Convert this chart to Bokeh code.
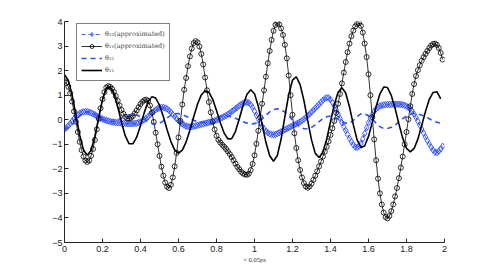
import numpy as np
from bokeh.plotting import figure
from bokeh.models import (Range1d, FixedTicker, CustomJSTickFormatter, Legend,
                          LegendItem)
from bokeh.embed import file_html
from bokeh.resources import INLINE

# ---------------- data ----------------
# sample grid of the approximated series (markers), 0.00 .. 1.99
t_approx = np.round(np.arange(200) * 0.01, 2)
# sample grid of the reference series (lines), 0.00 .. 1.98
t_exact = np.round(np.arange(100) * 0.02, 2)

theta12_approx = [
    -0.38, -0.33, -0.25, -0.16, -0.06, 0.04, 0.13, 0.20, 0.26, 0.30,
    0.32, 0.33, 0.33, 0.31, 0.28, 0.24, 0.20, 0.15, 0.11, 0.07,
    0.03, 0.00, -0.03, -0.05, -0.07, -0.09, -0.10, -0.11, -0.12, -0.13,
    -0.14, -0.15, -0.15, -0.16, -0.16, -0.16, -0.16, -0.15, -0.14, -0.12,
    -0.09, -0.05, 0.00, 0.06, 0.13, 0.20, 0.27, 0.34, 0.40, 0.45,
    0.48, 0.50, 0.50, 0.48, 0.44, 0.38, 0.31, 0.22, 0.13, 0.04,
    -0.04, -0.11, -0.17, -0.22, -0.26, -0.28, -0.29, -0.28, -0.27, -0.25,
    -0.23, -0.21, -0.19, -0.17, -0.15, -0.13, -0.11, -0.09, -0.07, -0.04,
    -0.01, 0.02, 0.05, 0.09, 0.13, 0.17, 0.22, 0.27, 0.33, 0.39,
    0.45, 0.51, 0.57, 0.62, 0.67, 0.70, 0.71, 0.69, 0.62, 0.50,
    0.35, 0.18, 0.02, -0.13, -0.26, -0.37, -0.46, -0.53, -0.58, -0.60,
    -0.61, -0.60, -0.57, -0.53, -0.49, -0.45, -0.41, -0.37, -0.33, -0.29,
    -0.25, -0.21, -0.17, -0.13, -0.09, -0.04, 0.02, 0.09, 0.16, 0.23,
    0.31, 0.39, 0.47, 0.55, 0.63, 0.71, 0.79, 0.86, 0.90, 0.89,
    0.82, 0.70, 0.55, 0.40, 0.23, 0.05, -0.12, -0.28, -0.44, -0.60,
    -0.76, -0.90, -1.02, -1.11, -1.13, -1.08, -0.96, -0.78, -0.56, -0.33,
    -0.12, 0.06, 0.21, 0.34, 0.44, 0.51, 0.56, 0.58, 0.60, 0.61,
    0.62, 0.62, 0.62, 0.63, 0.63, 0.63, 0.63, 0.62, 0.61, 0.59,
    0.55, 0.50, 0.44, 0.35, 0.23, 0.09, -0.06, -0.22, -0.38, -0.54,
    -0.70, -0.85, -0.99, -1.12, -1.24, -1.32, -1.34, -1.28, -1.19, -1.08,
]

theta11_approx = [
    1.56, 1.50, 1.34, 1.08, 0.74, 0.34, -0.08, -0.50, -0.90, -1.24,
    -1.50, -1.66, -1.72, -1.66, -1.47, -1.19, -0.82, -0.39, 0.04, 0.47,
    0.84, 1.12, 1.31, 1.37, 1.34, 1.26, 1.13, 0.96, 0.77, 0.58,
    0.40, 0.24, 0.12, 0.05, 0.05, 0.08, 0.15, 0.26, 0.38, 0.51,
    0.64, 0.73, 0.80, 0.82, 0.76, 0.58, 0.29, -0.09, -0.53, -1.00,
    -1.47, -1.91, -2.28, -2.56, -2.73, -2.78, -2.65, -2.35, -1.90, -1.35,
    -0.72, -0.05, 0.62, 1.22, 1.70, 2.18, 2.58, 2.90, 3.12, 3.20,
    3.15, 2.98, 2.68, 2.25, 1.72, 1.20, 0.72, 0.30, -0.08, -0.40,
    -0.65, -0.82, -0.93, -1.02, -1.10, -1.19, -1.29, -1.40, -1.52, -1.65,
    -1.79, -1.92, -2.02, -2.12, -2.19, -2.23, -2.24, -2.20, -2.05, -1.80,
    -1.45, -0.98, -0.45, 0.10, 0.65, 1.20, 1.75, 2.30, 2.80, 3.25,
    3.62, 3.86, 3.94, 3.88, 3.72, 3.45, 3.05, 2.50, 1.80, 1.00,
    0.20, -0.55, -1.15, -1.65, -2.05, -2.35, -2.58, -2.72, -2.77, -2.72,
    -2.60, -2.45, -2.28, -2.10, -1.90, -1.70, -1.50, -1.30, -1.10, -0.88,
    -0.62, -0.35, -0.05, 0.28, 0.65, 1.05, 1.48, 1.92, 2.35, 2.75,
    3.10, 3.40, 3.63, 3.80, 3.90, 3.93, 3.82, 3.55, 3.10, 2.55,
    1.85, 1.00, 0.10, -0.80, -1.65, -2.40, -3.00, -3.45, -3.78, -3.96,
    -4.02, -3.92, -3.72, -3.45, -3.12, -2.78, -2.38, -1.95, -1.50, -1.00,
    -0.50, 0.02, 0.55, 1.05, 1.45, 1.78, 2.02, 2.22, 2.40, 2.55,
    2.68, 2.80, 2.92, 3.02, 3.08, 3.10, 3.05, 2.92, 2.72, 2.45,
]

theta12 = [
    -0.38, -0.33, -0.21, -0.03, 0.15, 0.27, 0.32, 0.29, 0.22, 0.12,
    0.02, -0.05, -0.08, -0.06, 0.00, 0.07, 0.15, 0.20, 0.22, 0.19,
    0.12, 0.02, -0.08, -0.15, -0.18, -0.15, -0.05, 0.07, 0.18, 0.24,
    0.25, 0.21, 0.14, 0.05, -0.02, -0.08, -0.10, -0.10, -0.06, -0.01,
    0.07, 0.12, 0.15, 0.15, 0.12, 0.06, -0.01, -0.08, -0.14, -0.17,
    -0.16, -0.09, 0.03, 0.18, 0.32, 0.41, 0.45, 0.41, 0.31, 0.16,
    -0.01, -0.17, -0.30, -0.37, -0.37, -0.31, -0.21, -0.08, 0.04, 0.12,
    0.15, 0.12, 0.03, -0.08, -0.14, -0.14, -0.03, 0.13, 0.24, 0.24,
    0.16, 0.02, -0.14, -0.28, -0.36, -0.36, -0.31, -0.22, -0.09, 0.04,
    0.15, 0.22, 0.25, 0.23, 0.19, 0.12, 0.04, -0.04, -0.10, -0.14,
]

theta11 = [
    1.83, 1.61, 1.01, 0.19, -0.63, -1.23, -1.45, -1.24, -0.67, 0.09,
    0.81, 1.27, 1.34, 1.06, 0.53, -0.10, -0.66, -0.98, -0.98, -0.71,
    -0.24, 0.30, 0.73, 0.94, 0.88, 0.59, 0.13, -0.41, -0.89, -1.24,
    -1.36, -1.24, -0.91, -0.43, 0.12, 0.63, 1.01, 1.18, 1.12, 0.83,
    0.38, -0.12, -0.54, -0.78, -0.77, -0.47, 0.04, 0.59, 1.03, 1.22,
    1.06, 0.55, -0.18, -0.92, -1.47, -1.69, -1.46, -0.79, 0.13, 1.02,
    1.61, 1.75, 1.43, 0.79, -0.04, -0.82, -1.37, -1.54, -1.32, -0.79,
    -0.08, 0.61, 1.12, 1.30, 1.09, 0.52, -0.20, -0.82, -1.14, -1.06,
    -0.68, -0.10, 0.53, 1.05, 1.33, 1.31, 0.99, 0.46, -0.17, -0.75,
    -1.16, -1.31, -1.17, -0.79, -0.24, 0.34, 0.83, 1.11, 1.14, 0.85,
]

x_ticks = [0, 0.2, 0.4, 0.6, 0.8, 1, 1.2, 1.4, 1.6, 1.8, 2]
y_ticks = [-5, -4, -3, -2, -1, 0, 1, 2, 3, 4]
legend_labels = ["θ₁₂(approximated)", "θ₁₁(approximated)", "θ₁₂", "θ₁₁"]
x_unit_label = "× 0.05ps"

BLUE = "#2e4dff"
AXIS = "#262626"

# ---------------- figure ----------------
p = figure(width=483, height=265, output_backend="svg", toolbar_location=None,
           x_range=Range1d(0, 2), y_range=Range1d(-5, 4),
           min_border_left=64, min_border_right=39, min_border_top=21,
           min_border_bottom=23)
p.outline_line_color = None
p.xgrid.visible = False
p.ygrid.visible = False
p.background_fill_color = "white"
p.border_fill_color = "white"

fmt = CustomJSTickFormatter(
    code="return (Math.round(tick*10)/10).toString().replace('-', '\u2212');")

for ax, ticks in ((p.xaxis[0], x_ticks), (p.yaxis[0], y_ticks)):
    ax.ticker = FixedTicker(ticks=ticks)
    ax.formatter = fmt
    ax.major_tick_in = 4
    ax.major_tick_out = 0
    ax.minor_tick_line_color = None
    ax.axis_line_color = AXIS
    ax.axis_line_width = 1
    ax.major_tick_line_color = AXIS
    ax.major_label_text_font = "Liberation Sans"
    ax.major_label_text_font_size = "9px"
    ax.major_label_text_color = "#1a1a1a"
p.xaxis.major_label_standoff = 3
p.yaxis.major_label_standoff = 2
p.xaxis.axis_label = x_unit_label
p.xaxis.axis_label_text_font = "Liberation Serif"
p.xaxis.axis_label_text_font_size = "6.5px"
p.xaxis.axis_label_text_font_style = "normal"
p.xaxis.axis_label_text_color = "#333333"
p.xaxis.axis_label_standoff = 1

# series (legend order = drawing order)
r12a_line = p.line(t_approx, theta12_approx, line_color=BLUE, line_width=0.9,
                   line_dash="4 3")
r12a_mark = p.scatter(t_approx, theta12_approx, marker="diamond", size=6.5,
                      fill_color=None, line_color=BLUE, line_width=0.9)
r11a_line = p.line(t_approx, theta11_approx, line_color="black", line_width=0.8)
r11a_mark = p.scatter(t_approx, theta11_approx, marker="circle", size=5,
                      fill_color=None, line_color="black", line_width=0.8)
r12 = p.line(t_exact, theta12, line_color=BLUE, line_width=1.6, line_dash="5 4")
r11 = p.line(t_exact, theta11, line_color="black", line_width=1.6)

legend = Legend(items=[
    LegendItem(label=legend_labels[0], renderers=[r12a_line, r12a_mark]),
    LegendItem(label=legend_labels[1], renderers=[r11a_line, r11a_mark]),
    LegendItem(label=legend_labels[2], renderers=[r12]),
    LegendItem(label=legend_labels[3], renderers=[r11]),
])
legend.location = (12, 161)
legend.margin = 0
legend.padding = 4
legend.spacing = 0
legend.label_height = 12
legend.glyph_height = 10
legend.glyph_width = 21
legend.label_standoff = 3
legend.label_text_font = "DejaVu Serif"
legend.label_text_font_size = "6.5px"
legend.border_line_color = "black"
legend.border_line_width = 0.7
legend.background_fill_color = "white"
legend.background_fill_alpha = 1
p.add_layout(legend)

open("out.html", "w").write(file_html(p, INLINE))
